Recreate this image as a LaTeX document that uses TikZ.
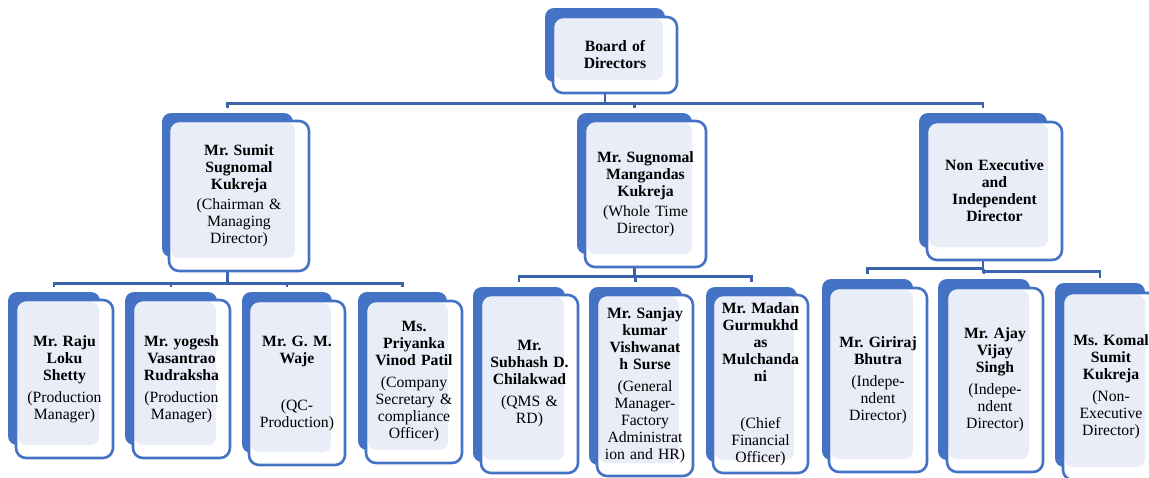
\documentclass[tikz,border=0pt]{standalone}
\usepackage{fontspec}
\setmainfont{Liberation Serif}
\frenchspacing
\usetikzlibrary{backgrounds}
\definecolor{boxblue}{HTML}{4472C4}
\definecolor{boxlight}{HTML}{E9EDF7}
\definecolor{linkblue}{HTML}{3B62AA}
\tikzstyle{back} = [rectangle, rounded corners=9pt, fill=boxblue, inner sep=0pt]
\tikzstyle{card} = [rectangle, rounded corners=10pt, draw=boxblue, line width=2.6pt, fill=white, inner sep=0pt, align=center, font=\fontsize{15.7}{17}\selectfont,
  path picture={\fill[boxlight, rounded corners=8pt] ([shift={(2pt,-2pt)}]path picture bounding box.north west) rectangle ([shift={(-14pt,13pt)}]path picture bounding box.south east);}]
\tikzstyle{top} = [card, text width=110pt]
\tikzstyle{mid} = [card, text width=118pt]
\tikzstyle{low} = [card, text width=88pt]
\tikzstyle{link} = [draw=linkblue, line width=2.8pt]

\begin{document}
\begin{tikzpicture}[x=1pt, y=-1pt]
	  \useasboundingbox (0,0) rectangle (1149,477);
	  \clip (0,0) rectangle (1149,477);

	  \node (boardbk) at (605,45) [back, minimum width=120, minimum height=74] {};
	  \node (board) at (615,55) [top, minimum width=124, minimum height=76] {\bfseries Board of\\Directors};

	  \node (sumitbk) at (227.5,185) [back, minimum width=131, minimum height=144] {};
	  \node (sumit) at (239,196) [mid, minimum width=140, minimum height=150] {\bfseries Mr. Sumit\\Sugnomal\\Kukreja\\[3pt]\mdseries (Chairman \&\\Managing\\Director)};
	  \node (sugnomalbk) at (634.5,183.5) [back, minimum width=115, minimum height=141] {};
	  \node (sugnomal) at (645.5,194) [mid, minimum width=121, minimum height=146] {\bfseries Mr. Sugnomal\\Mangandas\\Kukreja\\[3pt]\mdseries (Whole Time\\Director)};
	  \node (nonexecbk) at (983,180.5) [back, minimum width=128, minimum height=135] {};
	  \node (nonexec) at (994.5,191) [mid, minimum width=135, minimum height=138] {\bfseries Non Executive\\and\\Independent\\Director};

	  \node (rajubk) at (54,368.5) [back, minimum width=92, minimum height=153] {};
	  \node (raju) at (64.5,379) [low, minimum width=97, minimum height=158] {\bfseries Mr. Raju\\Loku\\Shetty\\[5pt]\mdseries (Production\\Manager)};
	  \node (yogeshbk) at (171,368.5) [back, minimum width=92, minimum height=153] {};
	  \node (yogesh) at (181.5,379) [low, minimum width=97, minimum height=158] {\bfseries Mr. yogesh\\Vasantrao\\Rudraksha\\[5pt]\mdseries (Production\\Manager)};
	  \node (wajebk) at (287,372.5) [back, minimum width=90, minimum height=161] {};
	  \node (waje) at (297,383) [low, minimum width=96, minimum height=164] {\bfseries Mr. G. M.\\Waje\\[30pt]\mdseries (QC-\\Production)};
	  \node (priyankabk) at (402.5,371) [back, minimum width=89, minimum height=158] {};
	  \node (priyanka) at (414,382) [low, minimum width=96, minimum height=162] {\bfseries Ms.\\Priyanka\\Vinod Patil\\[5pt]\mdseries (Company\\Secretary \&\\compliance\\Officer)};

	  \node (subhashbk) at (519,374.5) [back, minimum width=92, minimum height=175] {};
	  \node (subhash) at (529.5,384) [low, minimum width=97, minimum height=178] {\bfseries Mr.\\Subhash D.\\Chilakwad\\[5pt]\mdseries (QMS \&\\RD)};
	  \node (sanjaybk) at (635.5,376) [back, minimum width=93, minimum height=178] {};
	  \node (sanjay) at (645,385.5) [low, minimum width=96, minimum height=181] {\bfseries Mr. Sanjay\\kumar\\Vishwanat\\h Surse\\[5pt]\mdseries (General\\Manager-\\Factory\\Administrat\\ion and HR)};
	  \node (madanbk) at (751.5,374.5) [back, minimum width=91, minimum height=175] {};
	  \node (madan) at (760.5,384) [low, minimum width=95, minimum height=178] {\bfseries Mr. Madan\\Gurmukhd\\as\\Mulchanda\\ni\\[30pt]\mdseries (Chief\\Financial\\Officer)};

	  \node (girirajbk) at (867.5,369.5) [back, minimum width=91, minimum height=181] {};
	  \node (giriraj) at (878,380) [low, minimum width=98, minimum height=184] {\bfseries Mr. Giriraj\\Bhutra\\[5pt]\mdseries (Indepe-\\ndent\\Director)};
	  \node (ajaybk) at (984,369.5) [back, minimum width=92, minimum height=181] {};
	  \node (ajay) at (995,380) [low, minimum width=96, minimum height=184] {\bfseries Mr. Ajay\\Vijay\\Singh\\[5pt]\mdseries (Indepe-\\ndent\\Director)};
	  \node (komalbk) at (1100,375) [back, minimum width=90, minimum height=184] {};
	  \node (komal) at (1111,386.5) [low, minimum width=96, minimum height=187] {\bfseries Ms. Komal\\Sumit\\Kukreja\\[5pt]\mdseries (Non-\\Executive\\Director)};

	  \begin{scope}[on background layer]
	  \draw [link] (boardbk.south) -- ++(0,21) -| ([yshift=5pt]sumitbk.north);
	  \draw [link] (boardbk.south) -- ++(0,21) -| ([yshift=5pt]sugnomalbk.north);
	  \draw [link] (boardbk.south) -- ++(0,21) -| ([yshift=5pt]nonexecbk.north);

	  \draw [link] (sumitbk.south) -- ++(0,26) -| ([yshift=5pt]rajubk.north);
	  \draw [link] (sumitbk.south) -- ++(0,26) -| ([yshift=5pt]yogeshbk.north);
	  \draw [link] (sumitbk.south) -- ++(0,26) -| ([yshift=5pt]wajebk.north);
	  \draw [link] (sumitbk.south) -- ++(0,26) -| ([yshift=5pt]priyankabk.north);

	  \draw [link] (sugnomalbk.south) -- ++(0,22) -| ([yshift=5pt]subhashbk.north);
	  \draw [link] (sugnomalbk.south) -- ++(0,22) -| ([yshift=5pt]sanjaybk.north);
	  \draw [link] (sugnomalbk.south) -- ++(0,22) -| ([yshift=5pt]madanbk.north);

	  \draw [link] (nonexecbk.south) -- ++(0,20) -| ([yshift=5pt]girirajbk.north);
	  \draw [link] (nonexecbk.south) -- ++(0,22) -| ([yshift=5pt]ajaybk.north);
	  \draw [link] (nonexecbk.south) -- ++(0,23) -| ([yshift=5pt]komalbk.north);
	  \end{scope}
\end{tikzpicture}
\end{document}
